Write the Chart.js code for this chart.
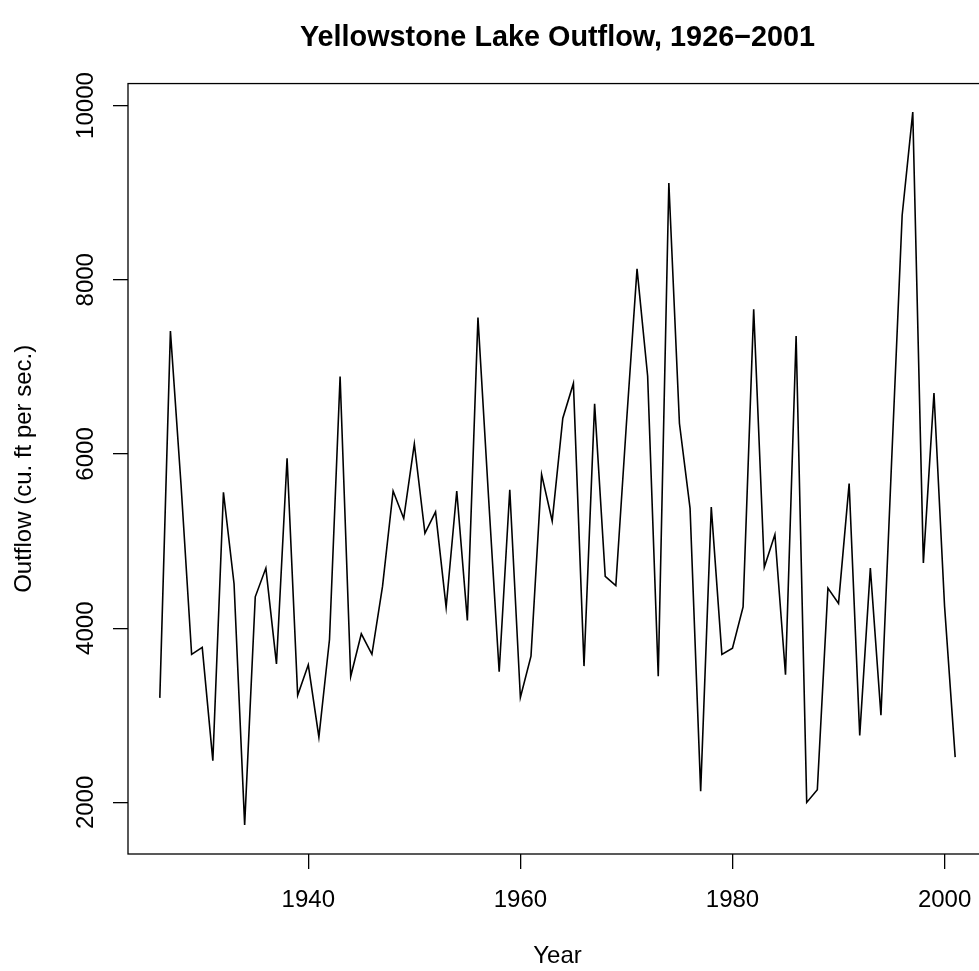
<!DOCTYPE html>
<html>
<head>
<meta charset="utf-8">
<title>Yellowstone Lake Outflow</title>
<script src="https://cdn.jsdelivr.net/npm/chart.js@4.4.1/dist/chart.umd.min.js"></script>
<style>
  html, body { margin: 0; padding: 0; background: #fff; overflow: hidden; }
  canvas { display: block; }
</style>
</head>
<body>
<canvas id="outflowChart" width="1000" height="971"></canvas>
<script>
// Annual outflow
const years = [
  1926, 1927, 1928, 1929, 1930, 1931, 1932, 1933, 1934, 1935,
  1936, 1937, 1938, 1939, 1940, 1941, 1942, 1943, 1944, 1945,
  1946, 1947, 1948, 1949, 1950, 1951, 1952, 1953, 1954, 1955,
  1956, 1957, 1958, 1959, 1960, 1961, 1962, 1963, 1964, 1965,
  1966, 1967, 1968, 1969, 1970, 1971, 1972, 1973, 1974, 1975,
  1976, 1977, 1978, 1979, 1980, 1981, 1982, 1983, 1984, 1985,
  1986, 1987, 1988, 1989, 1990, 1991, 1992, 1993, 1994, 1995,
  1996, 1997, 1998, 1999, 2000, 2001
];
const outflow = [
  3200, 7410, 5650, 3700, 3780, 2480, 5560, 4510, 1740, 4360,
  4690, 3590, 5950, 3230, 3580, 2750, 3870, 6890, 3445, 3935,
  3700, 4480, 5575, 5260, 6115, 5090, 5335, 4240, 5575, 4090,
  7565, 5500, 3500, 5590, 3205, 3680, 5765, 5230, 6410, 6810,
  3565, 6575, 4595, 4490, 6350, 8125, 6895, 3450, 9110, 6350,
  5375, 2130, 5390, 3700, 3770, 4245, 7660, 4700, 5075, 3465,
  7355, 2000, 2145, 4460, 4285, 5660, 2770, 4690, 3000, 5900,
  8740, 9925, 4750, 6700, 4250, 2520
];
const xTicks = [1940, 1960, 1980, 2000];
const yTicks = [2000, 4000, 6000, 8000, 10000];

const FONT = '"Liberation Sans", Arial, Helvetica, sans-serif';

// Box around the plot region, like R's box()
const boxPlugin = {
  id: 'box',
  afterDraw(chart) {
    const { ctx, chartArea } = chart;
    ctx.save();
    ctx.strokeStyle = '#000';
    ctx.lineWidth = 1.3;
    ctx.strokeRect(chartArea.left, chartArea.top,
      chartArea.right - chartArea.left, chartArea.bottom - chartArea.top);
    ctx.restore();
  }
};

// R draws the y tick labels parallel to the axis
const yLabelPlugin = {
  id: 'yLabels',
  afterDraw(chart) {
    const { ctx } = chart;
    const scale = chart.scales.y;
    ctx.save();
    ctx.fillStyle = '#000';
    ctx.font = '24px ' + FONT;
    ctx.textAlign = 'center';
    ctx.textBaseline = 'middle';
    scale.ticks.forEach(tick => {
      const y = scale.getPixelForValue(tick.value);
      ctx.save();
      ctx.translate(86, y);
      ctx.rotate(-Math.PI / 2);
      ctx.fillText(String(tick.value), 0, 0);
      ctx.restore();
    });
    ctx.restore();
  }
};

const ctx = document.getElementById('outflowChart').getContext('2d');
new Chart(ctx, {
  type: 'line',
  data: {
    datasets: [{
      data: years.map((yr, i) => ({ x: yr, y: outflow[i] })),
      borderColor: '#000',
      borderWidth: 1.6,
      pointRadius: 0,
      tension: 0,
      fill: false
    }]
  },
  options: {
    responsive: false,
    animation: false,
    layout: { padding: { top: 0, right: 13, bottom: 0, left: 0 } },
    plugins: {
      legend: { display: false },
      tooltip: { enabled: false },
      title: {
        display: true,
        fullSize: false,
        text: 'Yellowstone Lake Outflow, 1926\u22122001',
        color: '#000',
        font: { family: FONT, size: 28.8, weight: 'bold' },
        padding: { top: 21, bottom: 28 }
      }
    },
    scales: {
      x: {
        type: 'linear',
        min: 1923,
        max: 2004,
        afterBuildTicks: scale => { scale.ticks = xTicks.map(v => ({ value: v })); },
        afterFit: scale => { scale.height = 117; },
        grid: { drawOnChartArea: false, drawTicks: true, tickLength: 15, color: '#000', lineWidth: 1.3 },
        border: { display: false },
        ticks: {
          color: '#000',
          font: { family: FONT, size: 24 },
          padding: 17,
          maxRotation: 0,
          callback: v => String(v)
        },
        title: {
          display: true,
          text: 'Year',
          color: '#000',
          font: { family: FONT, size: 24 },
          padding: { top: 0, bottom: 0 }
        }
      },
      y: {
        type: 'linear',
        min: 1408,
        max: 10252,
        afterBuildTicks: scale => { scale.ticks = yTicks.map(v => ({ value: v })); },
        afterFit: scale => { scale.width = 128; },
        grid: { drawOnChartArea: false, drawTicks: true, tickLength: 15, color: '#000', lineWidth: 1.3 },
        border: { display: false },
        ticks: { display: false },
        title: {
          display: true,
          text: 'Outflow (cu. ft per sec.)',
          color: '#000',
          font: { family: FONT, size: 24 },
          padding: { top: 10, bottom: 0 }
        }
      }
    }
  },
  plugins: [boxPlugin, yLabelPlugin]
});
</script>
</body>
</html>
